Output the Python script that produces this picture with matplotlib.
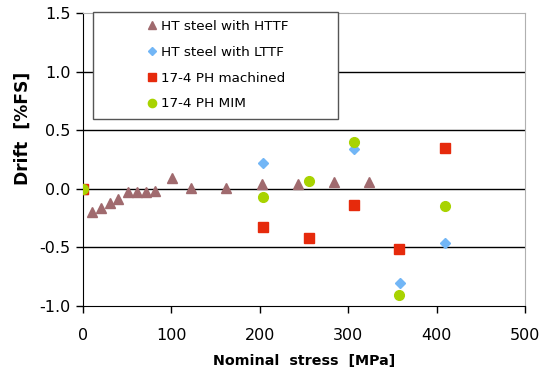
import matplotlib as mpl
mpl.use('Agg')
import matplotlib.pyplot as plt
from matplotlib.patches import Rectangle

plt.rcParams['font.family'] = ['DejaVu Sans']

# data (stress in MPa, drift in %FS)
httf_x = [0, 10, 20, 30, 40, 51, 61, 71, 81, 101, 122, 162, 203, 243, 284, 324]
httf_y = [0.0, -0.20, -0.16, -0.12, -0.09, -0.03, -0.03, -0.03, -0.02, 0.09,
          0.01, 0.01, 0.04, 0.04, 0.06, 0.055]
lttf_x = [0, 204, 307, 359, 410]
lttf_y = [0.0, 0.22, 0.34, -0.80, -0.46]
mach_x = [0, 204, 256, 307, 358, 410]
mach_y = [0.0, -0.33, -0.42, -0.14, -0.51, 0.35]
mim_x = [0, 204, 256, 307, 358, 410]
mim_y = [0.0, -0.07, 0.07, 0.40, -0.91, -0.15]

labels = ["HT steel with HTTF", "HT steel with LTTF",
          "17-4 PH machined", "17-4 PH MIM"]
xticks = [0, 100, 200, 300, 400, 500]
yticks = [-1.0, -0.5, 0.0, 0.5, 1.0, 1.5]

fig = plt.figure(figsize=(5.54, 3.74), dpi=100)
ax = fig.add_axes([0.1498, 0.1818, 0.7979, 0.7834])

for y in [-0.5, 0.0, 0.5, 1.0]:
    ax.axhline(y, color='black', lw=1.0, zorder=1)

ax.plot(httf_x, httf_y, ls='none', marker='^', ms=6.5, color='#a06a6e',
        mec='#a06a6e', label=labels[0], zorder=3)
ax.plot(lttf_x, lttf_y, ls='none', marker='D', ms=5, color='#72b6f6',
        mec='#72b6f6', label=labels[1], zorder=3)
ax.plot(mach_x, mach_y, ls='none', marker='s', ms=6.5, color='#e62a0c',
        mec='#e62a0c', label=labels[2], zorder=3)
ax.plot(mim_x, mim_y, ls='none', marker='o', ms=7, color='#a8d300',
        mec='#a8d300', label=labels[3], zorder=4)

ax.set_xlim(0, 500)
ax.set_ylim(-1.0, 1.5)
ax.set_xticks(xticks)
ax.set_yticks(yticks)
ax.set_yticklabels([f"{v:.1f}" for v in yticks])
ax.tick_params(direction='out', length=5, width=1, labelsize=11.5)
ax.tick_params(axis='x', pad=11)
ax.tick_params(axis='y', pad=4)

for s in ['top', 'right']:
    ax.spines[s].set_color('#b0b0b0')
for s in ['left', 'bottom']:
    ax.spines[s].set_color('black')

ax.set_xlabel("Nominal  stress  [MPa]", fontsize=10.3, fontweight='bold',
              labelpad=8)
ax.set_ylabel("Drift  [%FS]", fontsize=12.3, fontweight='bold')
ax.yaxis.set_label_coords(-0.115, 0.607)

# legend box drawn separately so entries can sit right of its left edge
box = Rectangle((0.0226, 0.638), 0.5545, 0.365, transform=ax.transAxes,
                facecolor='white', edgecolor='#555555', lw=1.0, zorder=5,
                clip_on=False)
ax.add_patch(box)
leg = ax.legend(loc='upper left', bbox_to_anchor=(0.147, 0.976),
                fontsize=9.7, frameon=False, handlelength=0.6,
                handletextpad=0.35, labelspacing=0.95, borderpad=0,
                borderaxespad=0, markerscale=0.85)
leg.set_zorder(6)

fig.savefig('out.png', dpi=100)
